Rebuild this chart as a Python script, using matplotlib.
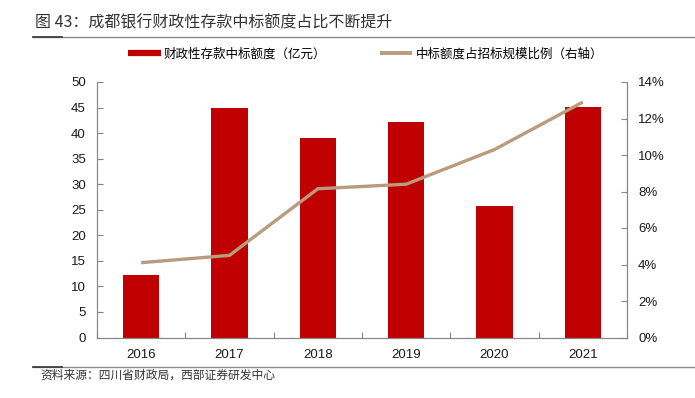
import matplotlib
matplotlib.use("Agg")
import matplotlib.pyplot as plt
from matplotlib.lines import Line2D
from matplotlib.ticker import FuncFormatter, MultipleLocator
import numpy as np

years = ["2016", "2017", "2018", "2019", "2020", "2021"]
deposit_amount = [12.3, 45.0, 39.1, 42.1, 25.8, 45.1]        # 亿元
bid_share_pct = [4.1, 4.5, 8.15, 8.4, 10.3, 12.9]            # %

title = "图 43：成都银行财政性存款中标额度占比不断提升"
legend_bar = "财政性存款中标额度（亿元）"
legend_line = "中标额度占招标规模比例（右轴）"
source = "资料来源：四川省财政局，西部证券研发中心"

CJK = ["Noto Sans CJK SC", "DejaVu Sans"]
NUM = ["Liberation Sans", "DejaVu Sans"]
plt.rcParams["font.family"] = NUM

bar_color = "#C00000"
line_color = "#B99B7D"
spine_color = "#868686"

fig = plt.figure(figsize=(6.95, 3.98), dpi=100)
ax = fig.add_axes([97 / 695, 1 - 337.5 / 398, (627 - 97) / 695, (337.5 - 82) / 398])
ax2 = ax.twinx()

x = np.arange(len(years))
ax.bar(x, deposit_amount, width=0.415, color=bar_color, zorder=2)
ax2.plot(x, bid_share_pct, color=line_color, lw=2.4, solid_capstyle="butt", zorder=3)

ax.set_xlim(-0.5, len(years) - 0.5)
ax.set_ylim(0, 50)
ax.yaxis.set_major_locator(MultipleLocator(5))
ax2.set_ylim(0, 14)
ax2.yaxis.set_major_locator(MultipleLocator(2))
ax2.yaxis.set_major_formatter(FuncFormatter(lambda v, p: f"{v:.0f}%"))

# x ticks: labels at centers, tick marks at boundaries
ax.set_xticks(x)
ax.set_xticklabels(years)
ax.set_xticks(np.arange(len(years) + 1) - 0.5, minor=True)
ax.tick_params(axis="x", which="major", length=0, pad=8, labelsize=9.5, labelcolor="#1a1a1a")
ax.tick_params(axis="x", which="minor", length=4, direction="in", color=spine_color, width=0.8)
ax.tick_params(axis="y", direction="in", length=4, color=spine_color, width=0.8,
               pad=8, labelsize=9.5, labelcolor="#1a1a1a")
ax2.tick_params(axis="y", direction="in", length=4, color=spine_color, width=0.8,
                pad=8, labelsize=9.5, labelcolor="#1a1a1a")

for a in (ax, ax2):
    a.spines["top"].set_visible(False)
    for s in ("left", "right", "bottom"):
        a.spines[s].set_color(spine_color)
        a.spines[s].set_linewidth(0.8)
ax.set_zorder(ax2.get_zorder() - 1)
ax.patch.set_visible(True)
ax2.patch.set_visible(False)

# title
fig.text(35 / 695, 1 - 22.5 / 398, title, fontsize=11.5, color="#333333",
         family=CJK, va="center", ha="left")
y_t = 1 - 37.3 / 398
fig.add_artist(Line2D([33 / 695, 1.0], [y_t, y_t], color="#8c8c8c", lw=1.0,
                      transform=fig.transFigure))
fig.add_artist(Line2D([33 / 695, 62 / 695], [y_t, y_t], color="#404040", lw=1.3,
                      transform=fig.transFigure))

# legend
handles = [Line2D([0], [0], color=bar_color, lw=4.5, solid_capstyle="butt"),
           Line2D([0], [0], color=line_color, lw=2.8, solid_capstyle="butt")]
fig.legend(handles, [legend_bar, legend_line], loc="center",
           bbox_to_anchor=(365.5 / 695, 1 - 54 / 398), ncol=2, frameon=False,
           handlelength=2.6, handletextpad=0.25, columnspacing=4.3,
           prop={"family": CJK, "size": 9})

# source
y_s = 1 - 367.3 / 398
fig.add_artist(Line2D([33 / 695, 1.0], [y_s, y_s], color="#8c8c8c", lw=1.0,
                      transform=fig.transFigure))
fig.add_artist(Line2D([33 / 695, 62 / 695], [y_s, y_s], color="#404040", lw=1.3,
                      transform=fig.transFigure))
fig.text(40 / 695, 1 - 375 / 398, source, fontsize=8.5, color="#333333",
         family=CJK, va="center", ha="left")

fig.savefig("out.png", dpi=100)
